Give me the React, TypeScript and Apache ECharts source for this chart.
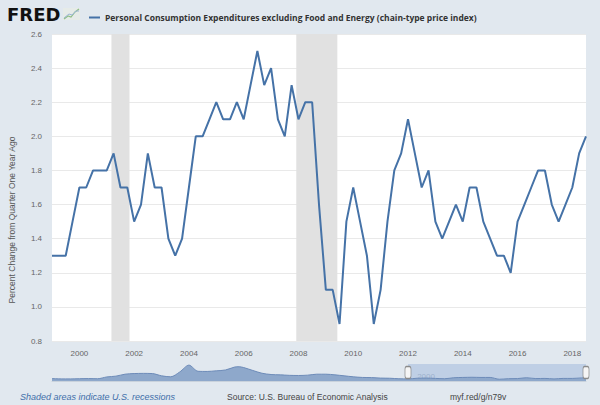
import React, { useEffect, useRef } from "react";
import * as echarts from "echarts";

// ---- Data ----
const seriesName =
  "Personal Consumption Expenditures excluding Food and Energy (chain-type price index)";
const startYear = 1999; // first quarter: 1999 Q1
const coreInflation = [
  1.3, 1.3, 1.3, 1.5, // 1999
  1.7, 1.7, 1.8, 1.8, // 2000
  1.8, 1.9, 1.7, 1.7, // 2001
  1.5, 1.6, 1.9, 1.7, // 2002
  1.7, 1.4, 1.3, 1.4, // 2003
  1.7, 2.0, 2.0, 2.1, // 2004
  2.2, 2.1, 2.1, 2.2, // 2005
  2.1, 2.3, 2.5, 2.3, // 2006
  2.4, 2.1, 2.0, 2.3, // 2007
  2.1, 2.2, 2.2, 1.6, // 2008
  1.1, 1.1, 0.9, 1.5, // 2009
  1.7, 1.5, 1.3, 0.9, // 2010
  1.1, 1.5, 1.8, 1.9, // 2011
  2.1, 1.9, 1.7, 1.8, // 2012
  1.5, 1.4, 1.5, 1.6, // 2013
  1.5, 1.7, 1.7, 1.5, // 2014
  1.4, 1.3, 1.3, 1.2, // 2015
  1.5, 1.6, 1.7, 1.8, // 2016
  1.8, 1.6, 1.5, 1.6, // 2017
  1.7, 1.9, 2.0,      // 2018
];
const recessions = [
  [2001.17, 2001.83],
  [2007.92, 2009.42],
];
const xTickYears = [2000, 2002, 2004, 2006, 2008, 2010, 2012, 2014, 2016, 2018];

// navigator (full history, approximate)
const navYears = [
  1960, 1961, 1962, 1963, 1964, 1965, 1966, 1967, 1968, 1969,
  1970, 1971, 1972, 1973, 1974, 1975, 1976, 1977, 1978, 1979,
  1980, 1980.5, 1981, 1982, 1983, 1984, 1985, 1986, 1987, 1988,
  1989, 1990, 1991, 1992, 1993, 1994, 1995, 1996, 1997, 1998,
  1999, 2000, 2001, 2002, 2003, 2004, 2005, 2006, 2007, 2008,
  2009, 2010, 2011, 2012, 2013, 2014, 2015, 2016, 2017, 2018, 2018.5,
];
const navValues = [
  1.5, 1.3, 1.3, 1.4, 1.5, 1.4, 2.5, 3.0, 4.2, 4.6,
  4.7, 4.6, 3.2, 2.6, 5.6, 9.8, 6.0, 5.9, 6.3, 6.8,
  8.6, 8.8, 8.3, 6.5, 4.8, 4.0, 3.8, 3.5, 3.4, 3.6,
  4.2, 4.2, 3.8, 3.2, 2.6, 2.2, 2.1, 1.8, 1.7, 1.4,
  1.3, 1.7, 1.8, 1.6, 1.4, 2.0, 2.2, 2.3, 2.2, 2.2,
  1.1, 1.4, 1.5, 2.0, 1.5, 1.6, 1.3, 1.6, 1.6, 1.9, 2.0,
];
const navSelection = [1999, 2018.5];
const navLabelYears = [1980, 2000];

export default function App() {
  const ref = useRef<HTMLDivElement>(null);
  useEffect(() => {
    if (!ref.current) return;
    const chart = echarts.init(ref.current, undefined, { renderer: "svg" });
    const mainData = coreInflation.map((v, i) => [startYear + i / 4, v]);
    const navData = navYears.map((y, i) => [y, navValues[i]]);
    const lastX = startYear + (coreInflation.length - 1) / 4;
    const font = "'Liberation Sans', Arial, sans-serif";

    chart.setOption({
      animation: false,
      backgroundColor: "#e1e8ef",
      textStyle: { fontFamily: font },
      legend: {
        data: [seriesName],
        left: 84,
        top: 8,
        icon: "rect",
        itemWidth: 11,
        itemHeight: 2,
        itemGap: 4,
        textStyle: {
          fontFamily: "'Open Sans', sans-serif",
          fontWeight: "bold",
          fontSize: 8.5,
          color: "#333",
        },
      },
      grid: [
        {
          left: 52,
          right: 14,
          top: 34,
          bottom: 64,
          show: true,
          backgroundColor: "#ffffff",
          borderWidth: 0,
        },
        { left: 52, right: 14, top: 364, height: 17 },
      ],
      xAxis: [
        {
          type: "value",
          gridIndex: 0,
          min: startYear,
          max: lastX,
          axisLine: { show: false },
          axisTick: { show: false },
          splitLine: { show: false },
          axisLabel: {
            customValues: xTickYears,
            formatter: (v: number) => String(v),
            fontSize: 8,
            color: "#666",
            margin: 8,
          },
        },
        {
          type: "value",
          gridIndex: 1,
          min: navYears[0],
          max: navYears[navYears.length - 1],
          position: "top",
          axisLine: { show: true, lineStyle: { color: "#c9d2dc", width: 1 } },
          axisTick: { show: false },
          splitLine: { show: false },
          axisLabel: {
            inside: true,
            customValues: navLabelYears,
            formatter: (v: number) => String(v),
            fontSize: 8,
            color: "#a4b2c4",
            align: "left",
            margin: 8,
          },
        },
      ],
      yAxis: [
        {
          type: "value",
          gridIndex: 0,
          min: 0.8,
          max: 2.6,
          interval: 0.2,
          axisLine: { show: false },
          axisTick: { show: false },
          splitLine: { lineStyle: { color: "#e9e9e9", width: 1 } },
          axisLabel: {
            formatter: (v: number) => v.toFixed(1),
            fontSize: 8,
            color: "#666",
            margin: 10,
          },
        },
        { type: "value", gridIndex: 1, min: 0, max: 10.5, show: false },
      ],
      series: [
        {
          name: seriesName,
          type: "line",
          xAxisIndex: 0,
          yAxisIndex: 0,
          data: mainData,
          showSymbol: false,
          color: "#4572a7",
          lineStyle: { color: "#4572a7", width: 2 },
          markArea: {
            silent: true,
            itemStyle: { color: "#e1e1e1" },
            data: recessions.map(([a, b]) => [{ xAxis: a }, { xAxis: b }]),
          },
          z: 3,
        },
        {
          name: "navigator",
          type: "line",
          xAxisIndex: 1,
          yAxisIndex: 1,
          data: navData,
          showSymbol: false,
          smooth: 0.3,
          lineStyle: { color: "#6d8bb8", width: 1 },
          areaStyle: { color: "#8ea8cb", opacity: 1 },
          markArea: {
            silent: true,
            itemStyle: { color: "rgba(150,178,218,0.45)" },
            data: [[{ xAxis: navSelection[0] }, { xAxis: navSelection[1] }]],
          },
          markPoint: {
            silent: true,
            symbol: "roundRect",
            symbolSize: [6, 12],
            itemStyle: { color: "#f5f5f5", borderColor: "#8a8a8a", borderWidth: 1 },
            label: { show: false },
            data: navSelection.map((x) => ({ coord: [x, 5.25] })),
          },
        },
      ],
      graphic: [
        {
          type: "text",
          left: 7,
          top: 5,
          style: {
            text: "FRED",
            font: "900 18px 'DejaVu Sans', sans-serif",
            fill: "#111",
          },
        },
        {
          type: "rect",
          shape: { x: 63, y: 8, width: 17, height: 12 },
          style: { fill: "#e6ebe8" },
        },
        {
          type: "polyline",
          shape: { points: [[64, 19], [68, 16], [71, 17], [75, 12], [79, 9]] },
          style: { stroke: "#8fbf86", lineWidth: 1.2, fill: "none" },
        },
        {
          type: "polyline",
          shape: { points: [[64, 18], [69, 14], [72, 15], [76, 11], [79, 11]] },
          style: { stroke: "#9bb5d4", lineWidth: 1, fill: "none" },
        },
        {
          type: "text",
          x: 12,
          y: 220,
          rotation: Math.PI / 2,
          style: {
            text: "Percent Change from Quarter One Year Ago",
            font: "8.5px 'Liberation Sans', Arial, sans-serif",
            fill: "#555",
            textAlign: "center",
            textVerticalAlign: "middle",
          },
        },
        {
          type: "text",
          left: 20,
          top: 392,
          style: {
            text: "Shaded areas indicate U.S. recessions",
            font: "italic 9px 'Liberation Sans', Arial, sans-serif",
            fill: "#3e6ea9",
          },
        },
        {
          type: "text",
          left: 227,
          top: 392,
          style: {
            text: "Source: U.S. Bureau of Economic Analysis",
            font: "8.5px 'Liberation Sans', Arial, sans-serif",
            fill: "#444",
          },
        },
        {
          type: "text",
          left: 450,
          top: 392,
          style: {
            text: "myf.red/g/n79v",
            font: "8.5px 'Liberation Sans', Arial, sans-serif",
            fill: "#444",
          },
        },
      ],
    });
    return () => chart.dispose();
  }, []);
  return (
    <div
      ref={ref}
      style={{ position: "fixed", left: 0, top: 0, width: 600, height: 405 }}
    />
  );
}
